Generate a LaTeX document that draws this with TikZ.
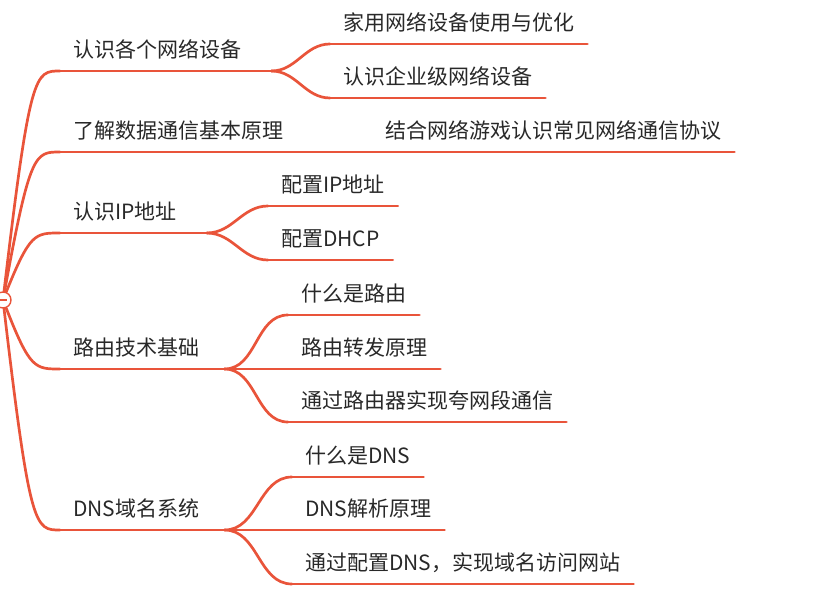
\documentclass[tikz,border=0pt]{standalone}
\usepackage{fontspec}
\setmainfont{Noto Sans CJK SC}
\definecolor{branchred}{RGB}{233,84,58}
\definecolor{topictext}{RGB}{40,40,40}
\tikzset{
  topic/.style={anchor=south west, inner xsep=13pt, inner ysep=0pt,
    text height=17pt, text depth=13pt,
    font=\fontsize{21}{24}\selectfont, text=topictext},
  branch/.style={draw=branchred, line width=2.7pt, line cap=round},
}
\begin{document}
\begin{tikzpicture}[x=1pt, y=-1pt]
\useasboundingbox (0,0) rectangle (818,593);

% Root (collapsed marker at the left edge)
\node[circle, draw=branchred, fill=white, line width=1.4pt, minimum size=16pt, inner sep=0pt] (root) at (3,300) {};
\draw[branchred, line width=1.6pt] ([xshift=-5pt]root.center) -- ([xshift=4pt]root.center);

% Main topics
\node[topic] (dev)   at (60,71)  {认识各个网络设备};
\node[topic] (comm)  at (60,152) {了解数据通信基本原理};
\node[topic] (ip)    at (60,233) {认识IP地址};
\node[topic] (route) at (60,369) {路由技术基础};
\node[topic] (dns)   at (60,530) {DNS域名系统};

% Subtopics
\node[topic] (home)   at (330,44)  {家用网络设备使用与优化};
\node[topic] (ent)    at (330,98)  {认识企业级网络设备};
\node[topic] (proto)  at (372,152) {结合网络游戏认识常见网络通信协议};
\node[topic] (ipcfg)  at (268,206) {配置IP地址};
\node[topic] (dhcp)   at (268,260) {配置DHCP};
\node[topic] (rwhat)  at (288,315) {什么是路由};
\node[topic] (rfwd)   at (288,369) {路由转发原理};
\node[topic] (rcross) at (288,422) {通过路由器实现夸网段通信};
\node[topic] (dwhat)  at (292,477) {什么是DNS};
\node[topic] (dres)   at (292,530) {DNS解析原理};
\node[topic] (dweb)   at (292,584) {通过配置DNS，实现域名访问网站};

% Fork points
\coordinate (devfork)   at ([xshift=17pt]dev.south east);
\coordinate (ipfork)    at ([xshift=17pt]ip.south east);
\coordinate (routefork) at ([xshift=12pt]route.south east);
\coordinate (dnsfork)   at ([xshift=12pt]dns.south east);

% Root to main topics
\draw[branch] (root) .. controls (30,71) and (35,71) .. (dev.south west);
\draw[branch] (root) .. controls (30,152) and (35,152) .. (comm.south west);
\draw[branch] (root) .. controls (30,233) and (35,233) .. (ip.south west);
\draw[branch] (root) .. controls (30,369) and (35,369) .. (route.south west);
\draw[branch] (root) .. controls (30,530) and (35,530) .. (dns.south west);

% Underlines of main topics
\draw[branch] (dev.south west) -- (devfork);
\draw[branch] (comm.south west) -- (comm.south east);
\draw[branch] (ip.south west) -- (ipfork);
\draw[branch] (route.south west) -- (routefork);
\draw[branch] (dns.south west) -- (dnsfork);

% Main topics to subtopics
\draw[branch] (devfork) to[out=0, in=180] (home.south west);
\draw[branch] (devfork) to[out=0, in=180] (ent.south west);
\draw[branch] (comm.south east) -- (proto.south west);
\draw[branch] (ipfork) to[out=0, in=180] (ipcfg.south west);
\draw[branch] (ipfork) to[out=0, in=180] (dhcp.south west);
\draw[branch] (routefork) to[out=0, in=180] (rwhat.south west);
\draw[branch] (routefork) -- (rfwd.south west);
\draw[branch] (routefork) to[out=0, in=180] (rcross.south west);
\draw[branch] (dnsfork) to[out=0, in=180] (dwhat.south west);
\draw[branch] (dnsfork) -- (dres.south west);
\draw[branch] (dnsfork) to[out=0, in=180] (dweb.south west);

% Underlines of subtopics
\foreach \n in {home, ent, proto, ipcfg, dhcp, rwhat, rfwd, rcross, dwhat, dres, dweb}
  \draw[branch] (\n.south west) -- (\n.south east);

\end{tikzpicture}
\end{document}
